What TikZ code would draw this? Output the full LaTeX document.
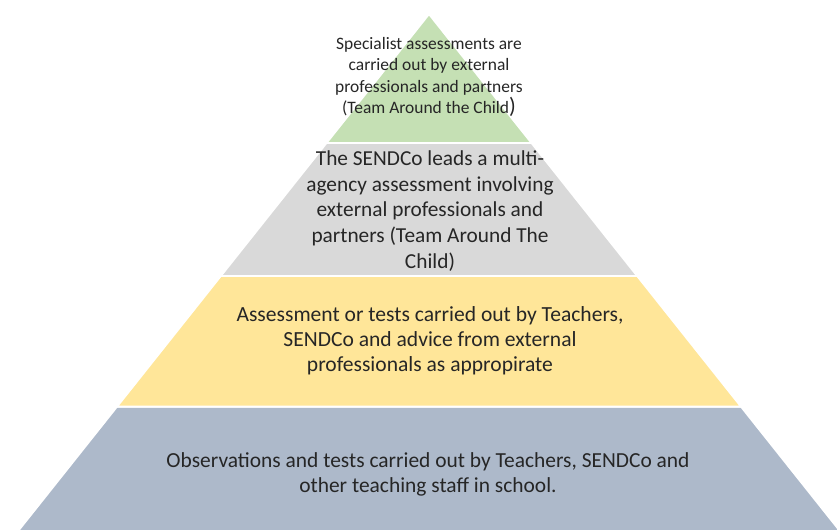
\documentclass[tikz,border=0pt]{standalone}
\usepackage{fontspec}
\setmainfont{Carlito}
\usetikzlibrary{positioning}

\definecolor{tiergreen}{HTML}{C5E0B4}
\definecolor{tiergray}{HTML}{D9D9D9}
\definecolor{tieryellow}{HTML}{FFE699}
\definecolor{tierblue}{HTML}{ADB9CA}

\begin{document}
\begin{tikzpicture}[x=0.03cm, y=-0.03cm,
    tier/.style={draw=white, line width=1.7pt},
    tiertext/.style={align=center, text=black!85, inner sep=0pt}]
    \useasboundingbox (0,0) rectangle (837,531);
    \clip (0,0) rectangle (837,531);

    % Corners of the pyramid
    \coordinate (apex) at (429,14);
    \coordinate (gl) at (326.4,143);   \coordinate (gr) at (531.6,143);
    \coordinate (sl) at (220.7,276);   \coordinate (sr) at (637.3,276);
    \coordinate (yl) at (117,406.5);   \coordinate (yr) at (741,406.5);
    \coordinate (bl) at (18,531);      \coordinate (br) at (840,531);

    % Tiers
    \fill[tier, fill=tierblue] (yl) -- (yr) -- (br) -- (bl) -- cycle;
    \fill[tier, fill=tieryellow] (sl) -- (sr) -- (yr) -- (yl) -- cycle;
    \fill[tier, fill=tiergray] (gl) -- (gr) -- (sr) -- (sl) -- cycle;
    \fill[tier, fill=tiergreen] (apex) -- (gr) -- (gl) -- cycle;

    % Specialist
    \node[tiertext, font=\fontsize{14.9}{18.2}\selectfont] (spec) at (429,77)
        {Specialist assessments are\\carried out by external\\professionals and partners\\(Team Around the Child{\fontsize{19}{18.2}\selectfont)}};

    % Multi-agency
    \node[tiertext, font=\fontsize{18.2}{22}\selectfont] (multi) at (430,211)
        {The SENDCo leads a multi-\\agency assessment involving\\external professionals and\\partners (Team Around The\\Child)};

    % Teachers and SENDCo
    \node[tiertext, font=\fontsize{18.4}{21.3}\selectfont] (teach) at (430,341)
        {Assessment or tests carried out by Teachers,\\SENDCo and advice from external\\professionals as appropirate};

    % Observations
    \node[tiertext, font=\fontsize{18.3}{21.3}\selectfont] (obs) at (428,474)
        {Observations and tests carried out by Teachers, SENDCo and\\other teaching staff in school.};
\end{tikzpicture}
\end{document}
